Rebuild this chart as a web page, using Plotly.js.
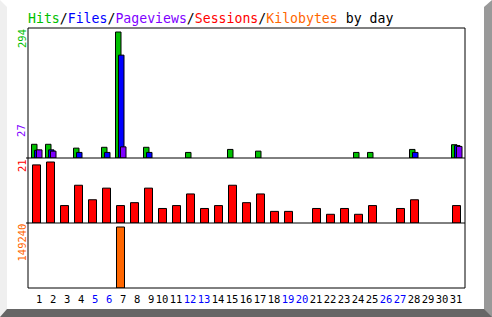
<!DOCTYPE html>
<html><head><meta charset="utf-8">
<script src="https://cdn.plot.ly/plotly-3.0.1.min.js"></script>
<style>
html,body{margin:0;padding:0;background:#fff;}
#wrap{width:492px;height:317px;box-sizing:border-box;border-top:7px solid #fff;border-left:7px solid #efefef;border-right:8px solid #999;border-bottom:8px solid #666;background:#fff;overflow:hidden}
#chart{width:477px;height:302px}
</style></head><body><div id="wrap"><div id="chart"></div></div>
<script>
// ---- data ----
const days = [1,2,3,4,5,6,7,8,9,10,11,12,13,14,15,16,17,18,19,20,21,22,23,24,25,26,27,28,29,30,31];
const hits      = [32,32,0,23,0,25,294,0,25,0,0,13,0,0,20,0,16,0,0,0,0,0,0,13,13,0,0,20,0,0,31];
const files     = [18,19,0,13,0,13,240,0,13,0,0,0,0,0,0,0,0,0,0,0,0,0,0,0,0,0,0,13,0,0,29];
const pageviews = [19,16,0,0,0,0,26,0,0,0,0,0,0,0,0,0,0,0,0,0,0,0,0,0,0,0,0,0,0,0,27];
const sessions  = [20,21,6,13,8,12,6,7,12,5,6,10,5,6,13,7,10,4,4,0,5,3,5,3,6,0,5,8,0,0,6];
const kilobytes = [0,0,0,0,0,0,149240,0,0,0,0,0,0,0,0,0,0,0,0,0,0,0,0,0,0,0,0,0,0,0,0];
const weekendDays = [5,6,12,13,19,20,26,27];
const titleParts = [["Hits","#00c000"],["Files","#0000ff"],["Pageviews","#8000ff"],["Sessions","#ff0000"],["Kilobytes","#ff6600"]];

// ---- layout constants ----
const PW = 437, SLOT = 14, FIRST = 8; // plot width px, px per day, first label center px
const mono = "DejaVu Sans Mono";
const xr = [1 - FIRST/SLOT, 1 + (PW - FIRST)/SLOT];
const px = v => v / SLOT;
const nz = arr => arr.map(v => v === 0 ? null : v); // zero bars are not drawn

const maxHits = Math.max(...hits), maxPages = Math.max(...pageviews);
const maxSess = Math.max(...sessions), maxKB = Math.max(...kilobytes);

const outline = {color:'#000', width:1};
const traces = [
  {type:'bar', x:days, y:nz(hits), yaxis:'y', marker:{color:'#00c000', line:outline}, offset:px(-4.5), width:px(5.5)},
  {type:'bar', x:days, y:nz(files), yaxis:'y', marker:{color:'#0000ff', line:outline}, offset:px(-1.5), width:px(5.5)},
  {type:'bar', x:days, y:nz(pageviews), yaxis:'y', marker:{color:'#8000ff', line:outline}, offset:px(0.5), width:px(5.5)},
  {type:'bar', x:days, y:nz(sessions), yaxis:'y2', marker:{color:'#ff0000', line:outline}, offset:px(-3.5), width:px(8)},
  {type:'bar', x:days, y:nz(kilobytes), yaxis:'y3', marker:{color:'#ff6600', line:outline}, offset:px(-3.5), width:px(8)}
];

const ticktext = days.map(d => {
  const s = d < 10 ? '\u00a0' + d : String(d);
  return weekendDays.includes(d) ? '<span style="color:#0000ff">' + s + '</span>' : s;
});

const title = titleParts.map(p => '<span style="color:' + p[1] + '">' + p[0] + '</span>').join('/') + ' by day';

const yax = (dom, top, h) => ({domain:dom, range:[0, top*h/(h-4)], showticklabels:false, showgrid:false, zeroline:false, showline:false, ticks:'', fixedrange:true});

const lab = (text, yref, y, color) => ({text, xref:'paper', x:0, xanchor:'right', xshift:0.5, yref, y, yanchor:'top', textangle:-90, showarrow:false, font:{family:mono, size:10.5, color}, borderpad:0});

const layout = {
  width:477, height:302,
  margin:{l:21, r:19, t:21, b:21, pad:0},
  paper_bgcolor:'#fff', plot_bgcolor:'#fff',
  showlegend:false, barmode:'overlay',
  title:{text:title, font:{family:mono, size:13.2, color:'#000'}, x:0, xref:'paper', xanchor:'left', y:0.962, yref:'container', yanchor:'middle'},
  xaxis:{range:xr, tickvals:days, ticktext, ticks:'', showgrid:false, zeroline:false, showline:false, anchor:'y3', tickfont:{family:mono, size:10.5, color:'#000'}, tickangle:0, ticklabelstandoff:3, fixedrange:true},
  yaxis: yax([0.5,1], maxHits, 130),
  yaxis2: yax([0.25,0.5], maxSess, 65),
  yaxis3: yax([0,0.25], maxKB, 65),
  shapes:[
    {type:'rect', xref:'paper', yref:'paper', x0:0, x1:1, y0:0, y1:1, line:{color:'#000', width:1}, layer:'above'},
    {type:'line', xref:'paper', yref:'paper', x0:-2/PW, x1:1, y0:0.5, y1:0.5, line:{color:'#000', width:1}, layer:'above'},
    {type:'line', xref:'paper', yref:'paper', x0:-2/PW, x1:1, y0:0.25, y1:0.25, line:{color:'#000', width:1}, layer:'above'}
  ],
  annotations:[
    lab(String(maxHits), 'y domain', 1, '#00c000'),
    lab(String(maxPages), 'y domain', 0.27, '#8000ff'),
    lab(String(maxSess), 'y2 domain', 1, '#ff0000'),
    lab(String(maxKB), 'y3 domain', 1, '#ff6600')
  ]
};

Plotly.newPlot('chart', traces, layout, {staticPlot:true, displayModeBar:false});
</script></body></html>
